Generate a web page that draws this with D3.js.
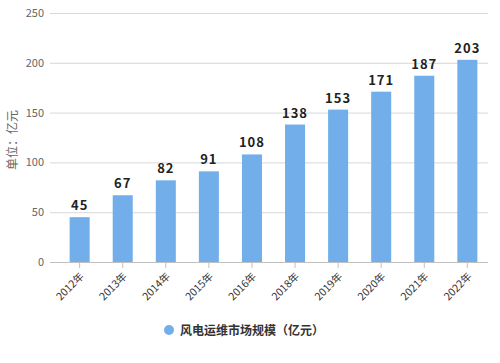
<!DOCTYPE html>
<html><head><meta charset="utf-8">
<script src="https://cdn.jsdelivr.net/npm/d3@7"></script>
<style>body{margin:0;background:#fff}svg{display:block}text{font-family:"Noto Sans CJK SC","Noto Sans",sans-serif}</style>
</head><body>
<script>
const categories = ["2012年","2013年","2014年","2015年","2016年","2018年","2019年","2020年","2021年","2022年"];
const values = [45,67,82,91,108,138,153,171,187,203];
const yTicks = [0,50,100,150,200,250];
const seriesName = "风电运维市场规模（亿元）";
const yTitle = "单位：亿元";

(function(){
const W=500,H=363;
const svg=d3.select("body").append("svg").attr("width",W).attr("height",H);
const gridLeft=50, right=488, plotTop=13, bottom=262;
const x=d3.scaleBand().domain(categories).range([58,489]).paddingInner(0.535).paddingOuter(0.27);
const y=d3.scaleLinear().domain([0,250]).range([bottom,plotTop]);

svg.append("g").selectAll("line").data(yTicks.filter(d=>d>0)).join("line")
 .attr("x1",gridLeft).attr("x2",right).attr("y1",d=>y(d)+0.5).attr("y2",d=>y(d)+0.5)
 .attr("stroke","#d8d8d8").attr("stroke-width",1);
svg.append("g").selectAll("text").data(yTicks).join("text")
 .attr("x",44).attr("y",d=>y(d)+4).attr("text-anchor","end")
 .attr("font-size",11).attr("fill","#666").text(d=>d);
svg.append("text").attr("transform","translate(17,140) rotate(-90)").attr("text-anchor","middle")
 .attr("font-size",12).attr("fill","#666").text(yTitle);
svg.append("g").selectAll("rect").data(values).join("rect")
 .attr("x",(d,i)=>x(categories[i])).attr("width",x.bandwidth())
 .attr("y",d=>y(d)).attr("height",d=>bottom-y(d)).attr("fill","#72aeea");
svg.append("line").attr("x1",gridLeft).attr("x2",right).attr("y1",bottom+0.5).attr("y2",bottom+0.5).attr("stroke","#c0c0c0");
svg.append("g").selectAll("line").data(categories).join("line")
 .attr("x1",d=>x(d)+x.bandwidth()/2).attr("x2",d=>x(d)+x.bandwidth()/2)
 .attr("y1",bottom).attr("y2",bottom+6).attr("stroke","#c0c0c0");
svg.append("g").selectAll("text").data(values).join("text")
 .attr("x",(d,i)=>x(categories[i])+x.bandwidth()/2).attr("y",d=>y(d)-7)
 .attr("text-anchor","middle").attr("font-size",13).attr("font-weight","bold")
 .attr("fill","#222").attr("letter-spacing","1px").text(d=>d);
svg.append("g").selectAll("text").data(categories).join("text")
 .attr("transform",d=>`translate(${x(d)+x.bandwidth()/2+5},${bottom+15}) rotate(-45)`)
 .attr("text-anchor","end").attr("font-size",10.5).attr("fill","#333").text(d=>d);
svg.append("circle").attr("cx",169).attr("cy",330).attr("r",5).attr("fill","#72aeea");
svg.append("text").attr("x",180).attr("y",334.5).attr("font-size",12).attr("font-weight","bold")
 .attr("fill","#333").text(seriesName);
})();
</script>
</body></html>
